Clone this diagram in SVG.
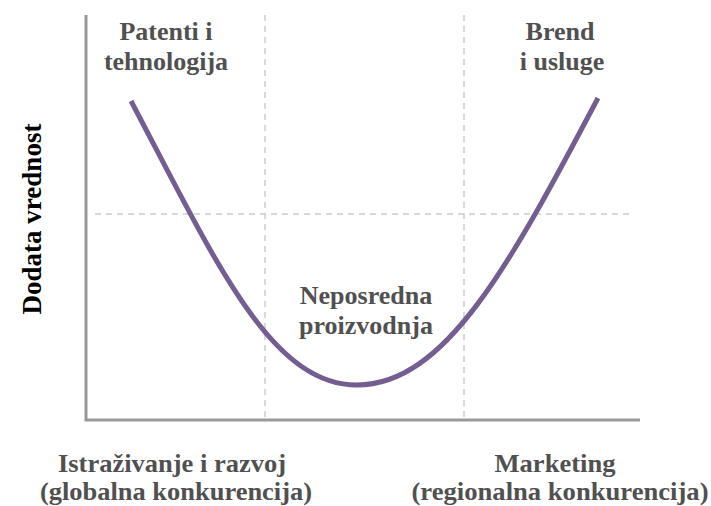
<svg xmlns="http://www.w3.org/2000/svg" width="711" height="506" viewBox="0 0 711 506">
<style>
.axis{stroke:#999;stroke-width:3;fill:none}
.grid{stroke:#ccc;stroke-width:1.5;stroke-dasharray:6 5;fill:none}
.curve{stroke:#735d91;stroke-width:5;fill:none;stroke-linecap:butt}
text{font-family:'Liberation Serif','Times New Roman',serif;font-weight:bold;text-anchor:middle}
.lbl{font-size:26px;fill:#505050}
.bot{font-size:25px;fill:#505050}
.ylbl{font-size:27px;fill:#000}
</style>
<rect width="711" height="506" fill="#fff"/>
<g id="grid">
<line class="grid" x1="265" y1="15" x2="265" y2="418"/>
<line class="grid" x1="464" y1="15" x2="464" y2="418"/>
<line class="grid" x1="95" y1="214" x2="632" y2="214"/>
</g>
<g id="axes">
<polyline class="axis" points="86,15 86,420 640,420"/>
</g>
<g id="curve">
<path class="curve" d="M131,101 C215,260 270,385 357,385 C445,385 510,265 598,98"/>
</g>
<g id="label-patents">
<text class="lbl"><tspan x="166" y="40">Patenti i</tspan><tspan x="166" y="69.5">tehnologija</tspan></text>
</g>
<g id="label-brand">
<text class="lbl"><tspan x="560" y="40">Brend</tspan><tspan x="562" y="69.5">i usluge</tspan></text>
</g>
<g id="label-production">
<text class="lbl"><tspan x="366" y="304">Neposredna</tspan><tspan x="366" y="333.5">proizvodnja</tspan></text>
</g>
<g id="label-y">
<text class="ylbl" transform="translate(41,219) rotate(-90)">Dodata vrednost</text>
</g>
<g id="label-rd">
<text class="bot" x="172" y="471.5" textLength="228" lengthAdjust="spacingAndGlyphs">Istraživanje i razvoj</text>
<text class="bot" x="176" y="499.5" textLength="272" lengthAdjust="spacingAndGlyphs">(globalna konkurencija)</text>
</g>
<g id="label-marketing">
<text class="bot" x="555" y="471.5" textLength="121" lengthAdjust="spacingAndGlyphs">Marketing</text>
<text class="bot" x="560" y="499.5" textLength="297" lengthAdjust="spacingAndGlyphs">(regionalna konkurencija)</text>
</g>
</svg>
